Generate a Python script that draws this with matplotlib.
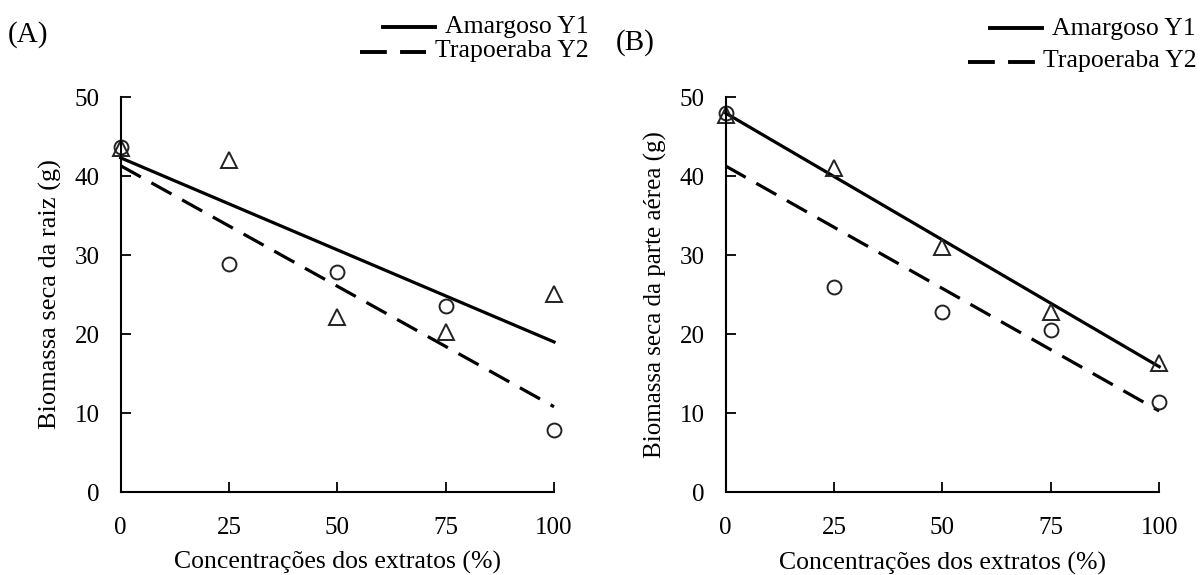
import numpy as np
import matplotlib
matplotlib.use("Agg")
import matplotlib.pyplot as plt
from matplotlib.lines import Line2D

plt.rcParams["font.family"] = ["Liberation Serif", "DejaVu Serif"]

# Data
conc = [0, 25, 50, 75, 100]

# (A) root dry biomass
raiz_amargoso = [43.6, 42.0, 22.1, 20.3, 25.1]     # triangles
raiz_trapoeraba = [43.7, 28.9, 27.8, 23.6, 7.9]    # circles
# (B) shoot dry biomass
aerea_amargoso = [47.8, 41.0, 31.1, 22.8, 16.4]
aerea_trapoeraba = [48.0, 26.0, 22.8, 20.5, 11.4]

# regression lines (intercept, slope)
raiz_fit_amargoso = (42.3, -0.233)
raiz_fit_trapoeraba = (41.3, -0.305)
aerea_fit_amargoso = (48.0, -0.321)
aerea_fit_trapoeraba = (41.3, -0.31)

panels = [
    ("Biomassa seca da raiz (g)", 19, raiz_amargoso, raiz_trapoeraba,
     raiz_fit_amargoso, raiz_fit_trapoeraba),
    ("Biomassa seca da parte aérea (g)", 18, aerea_amargoso, aerea_trapoeraba,
     aerea_fit_amargoso, aerea_fit_trapoeraba),
]

W, H = 1202, 575
fig = plt.figure(figsize=(W / 100, H / 100), dpi=100)
axes_pos = [[0.1004, 0.1443, 0.3605, 0.687], [0.6037, 0.1438, 0.3607, 0.687]]

xfit = np.array([0, 100])

for pos, (ylabel, ysize, y1, y2, f1, f2) in zip(axes_pos, panels):
    ax = fig.add_axes(pos)
    ax.plot(xfit, f1[0] + f1[1] * xfit, color="black", lw=2.3, clip_on=False)
    ax.plot(xfit, f2[0] + f2[1] * xfit, color="black", lw=2.3,
            dashes=(7.2, 3.8), clip_on=False)
    ax.plot(conc, y1, ls="none", marker="^", ms=12, mfc="none", mec="#222222",
            mew=1.4, clip_on=False)
    ax.plot(conc, y2, ls="none", marker="o", ms=10, mfc="none", mec="#222222",
            mew=1.4, clip_on=False)

    ax.set_xlim(0, 100)
    ax.set_ylim(0, 50)
    ax.set_xticks(conc)
    ax.set_yticks(range(0, 51, 10))
    ax.tick_params(direction="in", length=7, width=1.3, labelsize=18)
    ax.tick_params(axis="x", pad=18)
    ax.tick_params(axis="y", pad=15)
    for s in ["top", "right"]:
        ax.spines[s].set_visible(False)
    for s in ["left", "bottom"]:
        ax.spines[s].set_linewidth(1.5)
    ax.set_xlabel("Concentrações dos extratos (%)", fontsize=18.5)
    ax.xaxis.set_label_coords(0.5, -0.15)
    ax.set_ylabel(ylabel, fontsize=ysize)
    ax.yaxis.set_label_coords(-0.135, 0.5)

# panel tags
fig.text(8 / W, 1 - 35 / H, "(A)", fontsize=21, va="center", ha="left")
fig.text(616 / W, 1 - 43 / H, "(B)", fontsize=21, va="center", ha="left")

# legends drawn by hand, as in the original
def legend_row(x0, x1, y, xt, yt, label, dashed):
    ln = Line2D([x0 / W, x1 / W], [1 - y / H, 1 - y / H],
                color="black", lw=2.8, transform=fig.transFigure)
    if dashed:
        ln.set_dashes((6.9, 3.4))
    fig.add_artist(ln)
    fig.text(xt / W, 1 - yt / H, label, fontsize=18.5, ha="left", va="baseline")

legend_row(383, 435, 27, 445, 33, "Amargoso Y1", False)
legend_row(360, 426, 52, 435, 57, "Trapoeraba Y2", True)
legend_row(990, 1042, 28, 1052, 35, "Amargoso Y1", False)
legend_row(968, 1035, 62, 1043, 67, "Trapoeraba Y2", True)

plt.savefig("out.png", dpi=100)
